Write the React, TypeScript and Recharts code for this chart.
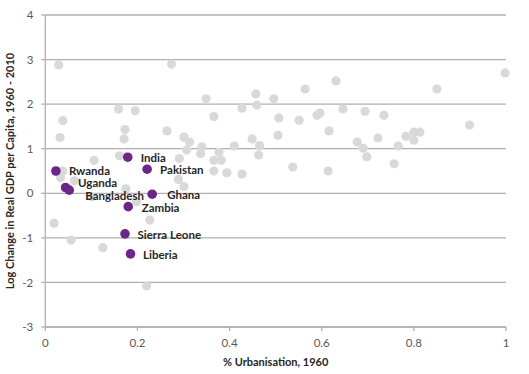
import React from "react";
import {
  ScatterChart,
  Scatter,
  XAxis,
  YAxis,
  CartesianGrid,
  ZAxis,
} from "recharts";

// Other countries: % urbanisation 1960 (x) and log change in real GDP per capita (y)
const otherX = [
  0.029, 0.038, 0.032, 0.274, 0.159, 0.195, 0.173, 0.171, 0.161, 0.106,
  0.264, 0.349, 0.366, 0.301, 0.313, 0.307, 0.291, 0.340, 0.337, 0.377,
  0.366, 0.382, 0.366, 0.394, 0.427, 0.410, 0.427, 0.457, 0.459, 0.449,
  0.465, 0.463, 0.496, 0.998, 0.850, 0.631, 0.564, 0.646, 0.694, 0.735,
  0.507, 0.551, 0.590, 0.596, 0.921, 0.616, 0.505, 0.677, 0.690, 0.722,
  0.766, 0.783, 0.800, 0.813, 0.800, 0.698, 0.757, 0.537, 0.614, 0.289,
  0.301, 0.038, 0.033, 0.063, 0.175, 0.101, 0.198, 0.019, 0.227, 0.056,
  0.125, 0.220,
];
const otherY = [
  2.88, 1.63, 1.25, 2.90, 1.89, 1.85, 1.43, 1.22, 0.84, 0.74,
  1.40, 2.12, 1.72, 1.26, 1.15, 0.97, 0.78, 1.04, 0.89, 0.92,
  0.74, 0.74, 0.50, 0.46, 0.43, 1.06, 1.91, 2.23, 1.98, 1.22,
  1.07, 0.86, 2.12, 2.70, 2.34, 2.52, 2.34, 1.89, 1.84, 1.75,
  1.69, 1.64, 1.75, 1.80, 1.53, 1.40, 1.30, 1.15, 1.01, 1.24,
  1.06, 1.28, 1.37, 1.37, 1.19, 0.82, 0.66, 0.59, 0.50, 0.31,
  0.15, 0.50, 0.35, 0.28, 0.10, -0.08, -0.19, -0.67, -0.60, -1.05,
  -1.22, -2.08,
];

// Highlighted countries
const countries = [
  "India", "Pakistan", "Rwanda", "Uganda", "Bangladesh",
  "Ghana", "Zambia", "Sierra Leone", "Liberia",
];
const countryX = [0.179, 0.221, 0.023, 0.044, 0.052, 0.232, 0.180, 0.173, 0.185];
const countryY = [0.81, 0.54, 0.50, 0.13, 0.07, -0.02, -0.30, -0.91, -1.36];

const xTicks = [0, 0.2, 0.4, 0.6, 0.8, 1];
const yTicks = [-3, -2, -1, 0, 1, 2, 3, 4];

// label offsets relative to the marker (styling)
const labelOffset: Record<string, [number, number]> = {
  India: [13, 0.5],
  Pakistan: [13, 0.5],
  Rwanda: [13, -0.5],
  Uganda: [12.5, -4.5],
  Bangladesh: [16, 5],
  Ghana: [15, 0.5],
  Zambia: [13.5, 0.5],
  "Sierra Leone": [12.5, 1],
  Liberia: [12.5, 1],
};

const otherData = otherX.map((x, i) => ({ x, y: otherY[i] }));
const countryData = countries.map((name, i) => ({
  name,
  x: countryX[i],
  y: countryY[i],
}));

const FONT = "Lato, 'Open Sans', sans-serif";

const GrayDot = (props: any) => {
  const { cx, cy } = props;
  if (cx == null || cy == null) return null;
  return <circle cx={cx} cy={cy} r={4.6} fill="#d9d9d9" />;
};

const PurpleDot = (props: any) => {
  const { cx, cy, payload } = props;
  if (cx == null || cy == null) return null;
  const off = labelOffset[payload.name] || [13, 0];
  return (
    <g>
      <circle cx={cx} cy={cy} r={4.8} fill="#6c2589" />
      <text
        x={cx + off[0]}
        y={cy + off[1]}
        dominantBaseline="central"
        textAnchor="start"
        fontFamily={FONT}
        fontWeight={700}
        fontSize={11.5}
        fill="#262626"
      >
        {payload.name}
      </text>
    </g>
  );
};

export default function App() {
  return (
    <div style={{ position: "absolute", left: 0, top: 0, background: "#fff" }}>
      <ScatterChart
        width={529}
        height={374}
        margin={{ top: 15, right: 23, bottom: 7, left: 0 }}
      >
        <CartesianGrid
          vertical={false}
          stroke="#b0b0b0"
          strokeWidth={1.3}
        />
        <XAxis
          type="number"
          dataKey="x"
          domain={[0, 1]}
          ticks={xTicks}
          height={40}
          tickSize={4}
          tickMargin={8}
          stroke="#b0b0b0"
          strokeWidth={1.3}
          tick={{ fill: "#595959", fontSize: 11.5, fontFamily: FONT }}
          tickFormatter={(v: number) => String(v)}
          label={{
            value: "% Urbanisation,  1960",
            position: "insideBottom",
            offset: 1,
            style: {
              fill: "#262626",
              fontSize: 11,
              fontWeight: 700,
              fontFamily: FONT,
            },
          }}
        />
        <YAxis
          type="number"
          dataKey="y"
          domain={[-3, 4]}
          ticks={yTicks}
          width={45.3}
          tickSize={4}
          tickMargin={8}
          stroke="#b0b0b0"
          strokeWidth={1.3}
          tick={{ fill: "#595959", fontSize: 11.5, fontFamily: FONT }}
          label={{
            value: "Log Change in  Real GDP per Capita,  1960 - 2010",
            angle: -90,
            position: "insideLeft",
            offset: 10,
            style: {
              textAnchor: "middle",
              fill: "#262626",
              fontSize: 11,
              fontWeight: 700,
              fontFamily: FONT,
            },
          }}
        />
        <ZAxis range={[64, 64]} />
        <Scatter
          data={otherData}
          shape={<GrayDot />}
          isAnimationActive={false}
        />
        <Scatter
          data={countryData}
          shape={<PurpleDot />}
          isAnimationActive={false}
        />
      </ScatterChart>
    </div>
  );
}
